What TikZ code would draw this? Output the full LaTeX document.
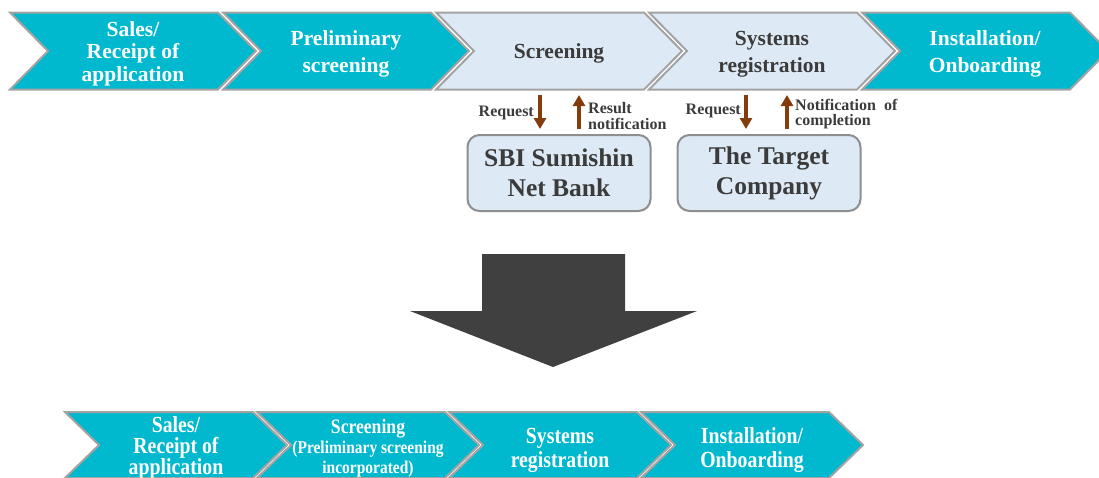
\documentclass[tikz,border=0pt]{standalone}
\usepackage{fontspec}
\setmainfont{Liberation Serif}
\newfontfamily\narrowserif[FakeStretch=0.86]{Liberation Serif}
\usetikzlibrary{arrows.meta}

\definecolor{stageteal}{HTML}{00B9CE}
\definecolor{stagelight}{HTML}{DDEAF6}
\definecolor{stageedge}{HTML}{A3A3A3}
\definecolor{darktext}{HTML}{3B3B3B}
\definecolor{brownarrow}{HTML}{843C0C}
\definecolor{bigarrowgray}{HTML}{404040}
\definecolor{boxedge}{HTML}{8E8E8E}

% chevron outline: #1 left x, #2 top y, #3 body width, #4 point depth, #5 height, #6 style
\newcommand\stageshape[6]{%
  \path[#6] (#1,#2) -- ++(#3,0) -- ++(#4,#5/2) -- ++(-#4,#5/2) -- ++(-#3,0)
    -- ++(#4,-#5/2) -- cycle;}

\begin{document}
\begin{tikzpicture}[x=1pt,y=-1pt,
  tealstage/.style={fill=stageteal,draw=stageedge,line width=2pt,line join=miter},
  lightstage/.style={fill=stagelight,draw=stageedge,line width=2pt,line join=miter},
  toptext/.style={align=center,inner sep=0pt,font=\bfseries\fontsize{21.5}{27}\selectfont},
  lowtext/.style={align=center,inner sep=0pt,font=\narrowserif\bfseries\fontsize{23}{24}\selectfont,text=white},
  partybox/.style={fill=stagelight,draw=boxedge,line width=2pt,rounded corners=12pt,
    minimum width=183pt,minimum height=76pt,align=center,inner sep=0pt,text=darktext,
    font=\bfseries\fontsize{25.5}{30}\selectfont},
  flowlabel/.style={inner sep=0pt,text=darktext,font=\bfseries\fontsize{16}{15.5}\selectfont},
  flowarrow/.style={draw=brownarrow,line width=3.5pt,-{Triangle[width=12pt,length=11pt]}}]
\useasboundingbox (0,0) rectangle (1099,477);
\clip (0,0) rectangle (1099,477);

% current process (top row)
\stageshape{10}{12.5}{208}{38}{77}{tealstage}
\stageshape{223}{12.5}{208}{38}{77}{tealstage}
\stageshape{436}{12.5}{208}{38}{77}{lightstage}
\stageshape{649}{12.5}{208}{38}{77}{lightstage}
\stageshape{862}{12.5}{208}{38}{77}{tealstage}

\node[toptext,text=white,font=\bfseries\fontsize{21.5}{22.5}\selectfont] (sales) at (133,53.5) {Sales/\\Receipt of\\application};
\node[toptext,text=white] (prelim) at (346,54) {Preliminary\\screening};
\node[toptext,text=darktext] (screen) at (559,53) {Screening};
\node[toptext,text=darktext] (sysreg) at (772,54) {Systems\\registration};
\node[toptext,text=white] (install) at (985,54) {Installation/\\Onboarding};

% external parties
\node[partybox] (bank) at (559,173) {SBI Sumishin\\Net Bank};
\node[partybox] (target) at (769,173) {The Target\\Company};

% requests and replies
\coordinate (bankreqA) at (540,95);
\coordinate (bankreqB) at (540,129);
\coordinate (bankresA) at (579,129);
\coordinate (bankresB) at (579,95);
\coordinate (tgtreqA) at (746,95);
\coordinate (tgtreqB) at (746,129);
\coordinate (tgtresA) at (787,129);
\coordinate (tgtresB) at (787,95);
\draw[flowarrow] (bankreqA) -- (bankreqB);
\draw[flowarrow] (bankresA) -- (bankresB);
\draw[flowarrow] (tgtreqA) -- (tgtreqB);
\draw[flowarrow] (tgtresA) -- (tgtresB);

\node[flowlabel,anchor=east] (bankreq) at (534,113) {Request};
\node[flowlabel,anchor=west,align=left] (bankres) at (588,116) {Result\\notification};
\node[flowlabel,anchor=east] (tgtreq) at (741,111) {Request};
\node[flowlabel,anchor=west,align=left] (tgtres) at (795,114) {Notification\ \ of\\completion};

% transition arrow
\fill[bigarrowgray] (482,254) -- (625,254) -- (625,311) -- (697,311) -- (553,367)
  -- (410,311) -- (482,311) -- cycle;

% revised process (bottom row)
\stageshape{65}{412}{188}{34}{66}{tealstage}
\stageshape{257}{412}{188}{34}{66}{tealstage}
\stageshape{449}{412}{188}{34}{66}{tealstage}
\stageshape{641}{412}{188}{34}{66}{tealstage}

\node[lowtext,font=\narrowserif\bfseries\fontsize{23}{21}\selectfont] (newsales) at (176,447.5) {Sales/\\Receipt of\\application};
\node[lowtext,font=\narrowserif\bfseries\fontsize{18}{20}\selectfont] (newscreen) at (368,448)
  {{\fontsize{20.5}{20}\selectfont Screening}\\(Preliminary screening\\incorporated)};
\node[lowtext] (newsysreg) at (560,450.5) {Systems\\registration};
\node[lowtext] (newinstall) at (752,450.5) {Installation/\\Onboarding};
\end{tikzpicture}
\end{document}
